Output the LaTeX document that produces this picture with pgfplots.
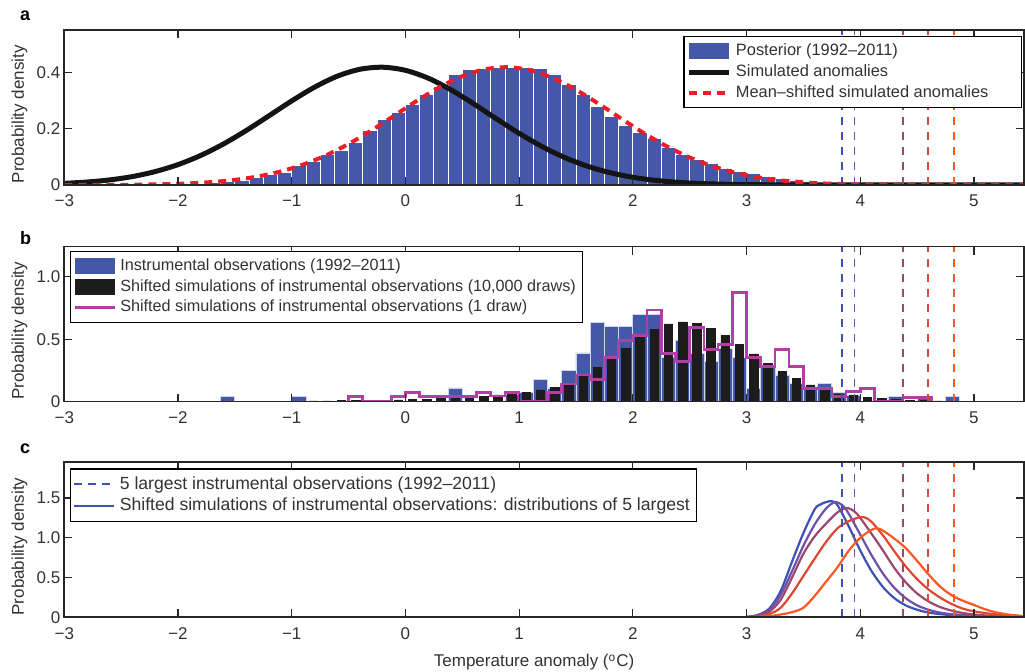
\documentclass[border=0pt]{standalone}
\usepackage{fontspec}
\setmainfont{Liberation Sans}
\usepackage{pgfplots}
\pgfplotsset{compat=1.18}

\definecolor{barblue}{RGB}{69,88,168}
\definecolor{simblack}{RGB}{28,28,28}
\definecolor{drawpurple}{RGB}{176,64,168}
\definecolor{redd}{RGB}{235,30,40}
\definecolor{cA}{RGB}{60,82,180}
\definecolor{cB}{RGB}{110,82,170}
\definecolor{cC}{RGB}{158,72,112}
\definecolor{cD}{RGB}{222,72,50}
\definecolor{cE}{RGB}{252,88,36}

\newcommand{\ls}{\vphantom{()}}

\pgfplotsset{
  barleg/.style={legend image code/.code={\fill[##1, draw=none] (0pt,-4pt) rectangle (20pt,4pt);}},
  lineleg/.style={legend image code/.code={\draw[##1] (0pt,0pt) -- (20pt,0pt);}},
  vl/.style={forget plot, line width=0.9pt, dash pattern=on 4pt off 3.5pt},
  panel/.style={
    font=\fontsize{8.5}{10}\selectfont,
    scale only axis, width=479.85pt, height=77.5pt,
    xmin=-3, xmax=5.44, ymin=0,
    xtick={-3,-2,-1,0,1,2,3,4,5},
    xticklabels={−3,−2,−1,0,1,2,3,4,5},
    tick align=inside, xtick pos=both, ytick pos=both,
    major tick length=4pt,
    axis line style={line width=0.8pt, black!85},
    every tick/.style={black!85, line width=0.6pt},
    tick label style={text=black!80},
    xticklabel style={yshift=-1.5pt},
    yticklabel style={xshift=1.5pt},
    ylabel={Probability density},
    every axis y label/.style={at={(rel axis cs:0,0.457)}, xshift=-22.4pt, rotate=90, anchor=center, text=black!80},
    axis on top,
    legend cell align=left,
    legend style={draw=black, line width=0.6pt, fill=white, inner xsep=1.3pt, inner ysep=2.2pt,
      nodes={inner ysep=1.5pt, inner xsep=2.2pt, text=black!80}, row sep=0pt},
  },
}

\begin{document}
\begin{tikzpicture}
\path[use as bounding box] (0,0) rectangle (512.5pt,-336pt);

\node[font=\bfseries\fontsize{9}{11}\selectfont, anchor=base west] at (6.5pt,-10.5pt) {a};
\node[font=\bfseries\fontsize{9}{11}\selectfont, anchor=base west] at (6.5pt,-122.5pt) {b};
\node[font=\bfseries\fontsize{9}{11}\selectfont, anchor=base west] at (6.5pt,-226.7pt) {c};

% ---------------- panel a ----------------
\begin{axis}[panel, at={(32.15pt,-92.5pt)}, anchor=south west,
  ymax=0.55, ytick={0,0.2,0.4}, yticklabels={0,0.2,0.4},
  legend style={at={(0.998,0.963)}, anchor=north east, font=\fontsize{8.2}{10}\selectfont}]
\addplot[ybar, bar width=0.125, bar shift=0pt, fill=barblue, draw=white, line width=0.4pt, forget plot] coordinates {
(-1.9375,0.004) (-1.8125,0.006) (-1.6875,0.010) (-1.5625,0.014) (-1.4375,0.018) (-1.3125,0.026)
(-1.1875,0.036) (-1.0625,0.045) (-0.9375,0.069) (-0.8125,0.085) (-0.6875,0.107) (-0.5625,0.122)
(-0.4375,0.152) (-0.3125,0.195) (-0.1875,0.234) (-0.0625,0.258) (0.0625,0.287) (0.1875,0.320)
(0.3125,0.349) (0.4375,0.393) (0.5625,0.409) (0.6875,0.414) (0.8125,0.416) (0.9375,0.416)
(1.0625,0.416) (1.1875,0.414) (1.3125,0.394) (1.4375,0.356) (1.5625,0.320) (1.6875,0.278)
(1.8125,0.243) (1.9375,0.213) (2.0625,0.187) (2.1875,0.164) (2.3125,0.135) (2.4375,0.110)
(2.5625,0.091) (2.6875,0.075) (2.8125,0.060) (2.9375,0.047) (3.0625,0.040) (3.1875,0.030)
(3.3125,0.024) (3.4375,0.018) (3.5625,0.014) (3.6875,0.010) (3.8125,0.007) (3.9375,0.005)
(4.0625,0.003) (4.1875,0.002)};
\addplot[black!92, line width=2.5pt, smooth, forget plot] coordinates {
(-3.0,0.0058) (-2.8,0.0105) (-2.6,0.0181) (-2.4,0.0300) (-2.2,0.0477) (-2.0,0.0723)
(-1.8,0.1049) (-1.6,0.1456) (-1.4,0.1933) (-1.2,0.2455) (-1.0,0.2984) (-0.8,0.3469)
(-0.6,0.3859) (-0.4,0.4106) (-0.2,0.4179) (0.0,0.4069) (0.2,0.3791) (0.4,0.3378)
(0.6,0.2880) (0.8,0.2349) (1.0,0.1833) (1.2,0.1368) (1.4,0.0976) (1.6,0.0667)
(1.8,0.0436) (2.0,0.0273) (2.2,0.0163) (2.4,0.0093) (2.6,0.0051) (2.8,0.0027)
(3.0,0.0013) (3.4,0.0003) (3.8,0) (4.4,0) (5.0,0) (5.44,0)};
\addplot[redd, line width=2pt, dash pattern=on 4pt off 3pt, smooth, forget plot] coordinates {
(-3.0,0) (-2.5,0.0005) (-2.1,0.003)
(-1.9,0.0058) (-1.7,0.0105) (-1.5,0.0181) (-1.3,0.0300) (-1.1,0.0477) (-0.9,0.0723)
(-0.7,0.1049) (-0.5,0.1456) (-0.3,0.1933) (-0.1,0.2455) (0.1,0.2984) (0.3,0.3469)
(0.5,0.3859) (0.7,0.4106) (0.9,0.4179) (1.1,0.4069) (1.3,0.3791) (1.5,0.3378)
(1.7,0.2880) (1.9,0.2349) (2.1,0.1833) (2.3,0.1368) (2.5,0.0976) (2.7,0.0667)
(2.9,0.0436) (3.1,0.0273) (3.3,0.0163) (3.5,0.0093) (3.7,0.0051) (3.9,0.0027)
(4.1,0.0013) (4.5,0.0003) (4.9,0) (5.44,0)};
\addplot[vl, cA] coordinates {(3.841,0) (3.841,0.55)};
\addplot[vl, cB] coordinates {(3.950,0) (3.950,0.55)};
\addplot[vl, cC] coordinates {(4.373,0) (4.373,0.55)};
\addplot[vl, cD] coordinates {(4.599,0) (4.599,0.55)};
\addplot[vl, cE] coordinates {(4.822,0) (4.822,0.55)};
\addlegendimage{barleg, fill=barblue}
\addlegendentry{\ls Posterior (1992–2011)}
\addlegendimage{lineleg, draw=black!92, line width=2.5pt}
\addlegendentry{\ls Simulated anomalies}
\addlegendimage{lineleg, draw=redd, line width=2pt, dash pattern=on 4pt off 3pt}
\addlegendentry{\ls Mean–shifted simulated anomalies\hspace*{13pt}}
\end{axis}

% ---------------- panel b ----------------
\begin{axis}[panel, at={(32.15pt,-200.85pt)}, anchor=south west,
  ymax=1.24, ytick={0,0.5,1}, yticklabels={0,0.5,1.0},
  legend style={at={(0.006,0.974)}, anchor=north west, font=\fontsize{8.1}{10}\selectfont}]
\addplot[ybar, bar width=0.125, bar shift=0pt, fill=barblue, draw=white!75!barblue, line width=0.4pt, forget plot] coordinates {
(-1.5625,0.04) (-0.9375,0.04) (0.4375,0.11) (0.9375,0.06) (1.0625,0.072) (1.1875,0.179)
(1.3125,0.11) (1.4375,0.25) (1.5625,0.39) (1.6875,0.632) (1.8125,0.60) (1.9375,0.60)
(2.0625,0.70) (2.1875,0.70) (2.3125,0.355) (2.4375,0.494) (2.5625,0.387) (2.6875,0.32)
(2.8125,0.425) (2.9375,0.357) (3.0625,0.107) (3.1875,0.28) (3.3125,0.214) (3.4375,0.147)
(3.5625,0.12) (3.6875,0.147) (3.8125,0.072) (3.9375,0.054) (4.3125,0.04) (4.5625,0.035)
(4.8125,0.043)};
\addplot[ybar, bar width=0.075, bar shift=0pt, fill=simblack, draw=simblack, line width=0.3pt, forget plot] coordinates {
(-2.8125,0.003) (-2.6875,0.003) (-2.5625,0.003) (-2.4375,0.003) (-2.3125,0.003) (-2.1875,0.003)
(-2.0625,0.003) (-1.9375,0.003) (-1.8125,0.003) (-1.6875,0.003) (-1.5625,0.003) (-1.4375,0.003)
(-1.3125,0.003) (-1.1875,0.003) (-1.0625,0.003) (-0.9375,0.003)
(-0.8125,0.006) (-0.6875,0.007) (-0.5625,0.009) (-0.4375,0.010) (-0.3125,0.012) (-0.1875,0.013)
(-0.0625,0.015) (0.0625,0.018) (0.1875,0.020) (0.3125,0.025) (0.4375,0.028) (0.5625,0.035)
(0.6875,0.040) (0.8125,0.055) (0.9375,0.067) (1.0625,0.072) (1.1875,0.094) (1.3125,0.115)
(1.4375,0.134) (1.5625,0.20) (1.6875,0.274) (1.8125,0.339) (1.9375,0.431) (2.0625,0.513)
(2.1875,0.579) (2.3125,0.622) (2.4375,0.639) (2.5625,0.627) (2.6875,0.587) (2.8125,0.528)
(2.9375,0.459) (3.0625,0.382) (3.1875,0.307) (3.3125,0.24) (3.4375,0.185) (3.5625,0.135)
(3.6875,0.096) (3.8125,0.062) (3.9375,0.051) (4.0625,0.035) (4.1875,0.027) (4.3125,0.021)
(4.4375,0.013) (4.5625,0.010) (4.6875,0.006) (4.8125,0.004) (4.9375,0.003) (5.0625,0.002)
(5.1875,0.002) (5.3125,0.001)};
\addplot[const plot, drawpurple, line width=1.3pt, forget plot] coordinates {
(-0.5,0) (-0.5,0.04) (-0.375,0) (-0.125,0.04) (0,0.072) (0.125,0.04) (0.625,0.072)
(0.75,0.045) (0.875,0.072) (1.0,0) (1.25,0.072) (1.375,0.142) (1.5,0.213) (1.625,0.179)
(1.75,0.352) (1.875,0.488) (2.0,0.528) (2.125,0.734) (2.25,0.387) (2.375,0.32)
(2.5,0.595) (2.625,0.419) (2.75,0.459) (2.875,0.872) (3.0,0.352) (3.125,0.28)
(3.25,0.419) (3.375,0.28) (3.5,0.107) (3.75,0.04) (3.875,0.08) (4.0,0.107) (4.125,0)
(4.375,0.035) (4.625,0)};
\addplot[vl, cA] coordinates {(3.841,0) (3.841,1.24)};
\addplot[vl, cB] coordinates {(3.950,0) (3.950,1.24)};
\addplot[vl, cC] coordinates {(4.373,0) (4.373,1.24)};
\addplot[vl, cD] coordinates {(4.599,0) (4.599,1.24)};
\addplot[vl, cE] coordinates {(4.822,0) (4.822,1.24)};
\addlegendimage{barleg, fill=barblue}
\addlegendentry{\ls Instrumental observations (1992–2011)}
\addlegendimage{barleg, fill=simblack}
\addlegendentry{\ls Shifted simulations of instrumental observations (10,000 draws)}
\addlegendimage{lineleg, draw=drawpurple, line width=1.3pt}
\addlegendentry{\ls Shifted simulations of instrumental observations (1 draw)}
\end{axis}

% ---------------- panel c ----------------
\begin{axis}[panel, at={(32.15pt,-308.65pt)}, anchor=south west,
  ymax=1.95, ytick={0,0.5,1,1.5}, yticklabels={0,0.5,1.0,1.5},
  xlabel={Temperature anomaly (\textsuperscript{o}C)},
  every axis x label/.style={at={(axis description cs:0.4895,0)}, anchor=base, yshift=-24.85pt, text=black!80},
  legend style={at={(0.006,0.961)}, anchor=north west, font=\fontsize{8.8}{10}\selectfont}]
\addplot[cA, line width=1.1pt, smooth, forget plot] coordinates {
(1,0) (2,0) (2.9,0) (3.0,0.005) (3.1,0.03) (3.2,0.11) (3.3,0.33) (3.4,0.70) (3.5,1.06)
(3.6,1.36) (3.65,1.42) (3.7,1.45) (3.75,1.46) (3.8,1.41) (3.9,1.14) (4.0,0.84) (4.1,0.58)
(4.2,0.38) (4.3,0.24) (4.4,0.15) (4.5,0.095) (4.6,0.06) (4.7,0.04) (4.8,0.028) (5.0,0.012)
(5.2,0.005) (5.44,0.002)};
\addplot[cB, line width=1.1pt, smooth, forget plot] coordinates {
(1,0) (2,0) (2.9,0) (3.0,0.003) (3.1,0.025) (3.2,0.09) (3.3,0.28) (3.4,0.58) (3.5,0.90)
(3.6,1.17) (3.7,1.37) (3.78,1.45) (3.85,1.40) (3.9,1.30) (4.0,1.04) (4.1,0.78) (4.2,0.55)
(4.3,0.37) (4.4,0.24) (4.5,0.15) (4.6,0.095) (4.7,0.06) (4.8,0.04) (5.0,0.02) (5.2,0.008)
(5.44,0.003)};
\addplot[cC, line width=1.1pt, smooth, forget plot] coordinates {
(1,0) (2,0) (2.9,0) (3.0,0.002) (3.1,0.02) (3.2,0.07) (3.3,0.22) (3.4,0.50) (3.5,0.80)
(3.6,1.02) (3.7,1.18) (3.8,1.32) (3.88,1.375) (3.95,1.33) (4.0,1.25) (4.1,1.05) (4.2,0.84)
(4.3,0.62) (4.4,0.44) (4.5,0.30) (4.6,0.20) (4.7,0.13) (4.8,0.085) (4.9,0.055) (5.0,0.035)
(5.2,0.015) (5.44,0.005)};
\addplot[cD, line width=1.1pt, smooth, forget plot] coordinates {
(1,0) (2,0) (2.9,0) (3.0,0.002) (3.1,0.01) (3.2,0.04) (3.3,0.12) (3.4,0.30) (3.5,0.52)
(3.6,0.74) (3.7,0.95) (3.8,1.12) (3.9,1.21) (4.0,1.26) (4.05,1.25) (4.1,1.20) (4.2,1.03)
(4.3,0.83) (4.4,0.64) (4.5,0.48) (4.6,0.35) (4.7,0.25) (4.8,0.17) (4.9,0.11) (5.0,0.075)
(5.2,0.035) (5.44,0.01)};
\addplot[cE, line width=1.1pt, smooth, forget plot] coordinates {
(1,0) (2,0) (3.0,0) (3.1,0.005) (3.2,0.015) (3.3,0.035) (3.4,0.065) (3.5,0.12) (3.6,0.27)
(3.7,0.45) (3.8,0.63) (3.9,0.84) (4.0,1.00) (4.1,1.10) (4.15,1.12) (4.2,1.09) (4.3,0.99)
(4.4,0.87) (4.5,0.71) (4.6,0.54) (4.7,0.39) (4.8,0.28) (4.9,0.21) (5.0,0.155) (5.1,0.10)
(5.2,0.06) (5.3,0.035) (5.44,0.015)};
\addplot[vl, cA] coordinates {(3.841,0) (3.841,1.95)};
\addplot[vl, cB] coordinates {(3.950,0) (3.950,1.95)};
\addplot[vl, cC] coordinates {(4.373,0) (4.373,1.95)};
\addplot[vl, cD] coordinates {(4.599,0) (4.599,1.95)};
\addplot[vl, cE] coordinates {(4.822,0) (4.822,1.95)};
\addlegendimage{lineleg, draw=cA, line width=1pt, dash pattern=on 4pt off 3pt}
\addlegendentry{\ls 5 largest instrumental observations (1992–2011)}
\addlegendimage{lineleg, draw=cA, line width=1.1pt}
\addlegendentry{\ls Shifted simulations of instrumental observations: distributions of 5 largest}
\end{axis}
\end{tikzpicture}
\end{document}
